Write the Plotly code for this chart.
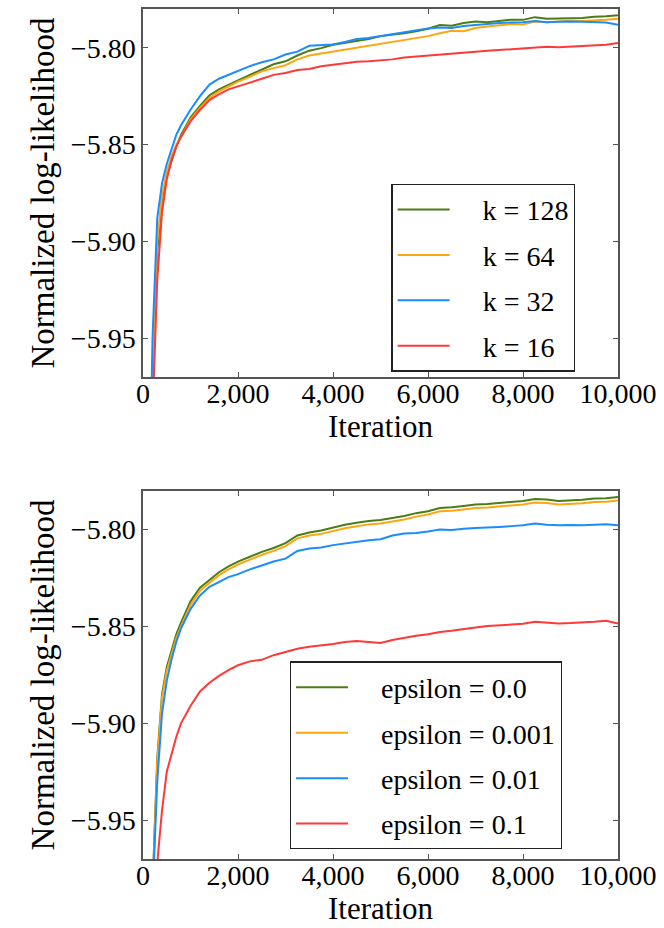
import plotly.graph_objects as go
from plotly.subplots import make_subplots

iterations = [100, 200, 300, 400, 500, 600, 700, 800, 1000, 1200, 1400, 1600, 1800, 2000,
              2250, 2500, 2750, 3000, 3250, 3500, 3750, 4000, 4250, 4500, 4750, 5000,
              5250, 5500, 5750, 6000, 6250, 6500, 6750, 7000, 7250, 7500, 7750, 8000,
              8250, 8500, 8750, 9000, 9250, 9500, 9750, 10000]

# Top panel: k sweep
k128 = [-6.10, -5.975, -5.905, -5.878, -5.866, -5.858, -5.851, -5.845, -5.836, -5.830, -5.8245,
        -5.8215, -5.819, -5.8168, -5.8140, -5.8112, -5.8085, -5.8070, -5.8040, -5.8015, -5.8002,
        -5.7985, -5.7975, -5.7962, -5.7955, -5.7940, -5.7933, -5.7925, -5.7915, -5.7902, -5.7883,
        -5.7886, -5.7872, -5.7865, -5.7868, -5.7860, -5.7855, -5.7856, -5.7842, -5.7850, -5.7849,
        -5.7845, -5.7846, -5.7840, -5.7838, -5.7832]
k64 = [-6.10, -5.970, -5.900, -5.876, -5.864, -5.856, -5.850, -5.846, -5.837, -5.831, -5.8260,
       -5.8225, -5.8200, -5.8175, -5.8150, -5.8122, -5.8105, -5.8090, -5.8060, -5.8040, -5.8030,
       -5.8020, -5.8010, -5.8000, -5.7990, -5.7983, -5.7970, -5.7960, -5.7952, -5.7940, -5.7925,
       -5.7912, -5.7915, -5.7898, -5.7890, -5.7885, -5.7878, -5.7880, -5.7865, -5.7868, -5.7865,
       -5.7860, -5.7862, -5.7860, -5.7856, -5.7850]
k32 = [-6.08, -5.950, -5.888, -5.870, -5.860, -5.852, -5.845, -5.840, -5.832, -5.8250, -5.8190,
       -5.8160, -5.8140, -5.8120, -5.8095, -5.8075, -5.8060, -5.8035, -5.8020, -5.7990, -5.7985,
       -5.7983, -5.7970, -5.7955, -5.7950, -5.7940, -5.7930, -5.7920, -5.7910, -5.7900, -5.7895,
       -5.7898, -5.7888, -5.7882, -5.7875, -5.7872, -5.7870, -5.7868, -5.7862, -5.7868, -5.7866,
       -5.7864, -5.7866, -5.7868, -5.7870, -5.7882]
k16 = [-6.12, -5.990, -5.920, -5.885, -5.868, -5.858, -5.851, -5.846, -5.838, -5.832, -5.8270,
       -5.8240, -5.8215, -5.8198, -5.8180, -5.8160, -5.8140, -5.8130, -5.8115, -5.8110, -5.8095,
       -5.8088, -5.8080, -5.8072, -5.8070, -5.8065, -5.8060, -5.8050, -5.8045, -5.8040, -5.8035,
       -5.8030, -5.8022, -5.8020, -5.8016, -5.8012, -5.8008, -5.8005, -5.7998, -5.7995, -5.7997,
       -5.7993, -5.7990, -5.7988, -5.7984, -5.7975]

# Bottom panel: epsilon sweep
eps0 = [-6.10, -5.985, -5.918, -5.885, -5.871, -5.862, -5.854, -5.848, -5.837, -5.830, -5.8260,
        -5.8220, -5.8190, -5.8165, -5.8140, -5.8115, -5.8095, -5.8070, -5.8030, -5.8015, -5.8005,
        -5.7990, -5.7975, -5.7965, -5.7955, -5.7950, -5.7940, -5.7930, -5.7915, -5.7905, -5.7888,
        -5.7885, -5.7878, -5.7870, -5.7868, -5.7862, -5.7858, -5.7852, -5.7842, -5.7845, -5.7852,
        -5.7850, -5.7846, -5.7840, -5.7838, -5.7832]
eps0001 = [-6.10, -5.988, -5.920, -5.887, -5.873, -5.864, -5.856, -5.850, -5.839, -5.8315, -5.8275,
           -5.8235, -5.8205, -5.8180, -5.8155, -5.8130, -5.8110, -5.8085, -5.8045, -5.8030, -5.8022,
           -5.8007, -5.7993, -5.7983, -5.7973, -5.7968, -5.7958, -5.7948, -5.7933, -5.7922, -5.7905,
           -5.7903, -5.7896, -5.7888, -5.7886, -5.7880, -5.7876, -5.7870, -5.7860, -5.7863, -5.7870,
           -5.7868, -5.7864, -5.7858, -5.7856, -5.7850]
eps001 = [-6.12, -5.990, -5.930, -5.895, -5.878, -5.867, -5.858, -5.851, -5.841, -5.834, -5.8295,
          -5.8270, -5.8245, -5.8230, -5.8205, -5.8185, -5.8165, -5.8150, -5.8110, -5.8098, -5.8092,
          -5.8080, -5.8072, -5.8062, -5.8055, -5.8050, -5.8030, -5.8020, -5.8018, -5.8010, -5.8000,
          -5.8002, -5.7995, -5.7992, -5.7990, -5.7986, -5.7982, -5.7978, -5.7968, -5.7975, -5.7978,
          -5.7976, -5.7978, -5.7974, -5.7972, -5.7978]
eps01 = [-6.15, -6.020, -5.972, -5.945, -5.925, -5.916, -5.907, -5.900, -5.891, -5.8835, -5.8790,
         -5.8755, -5.8725, -5.8700, -5.8680, -5.8672, -5.8648, -5.8632, -5.8615, -5.8605, -5.8598,
         -5.8590, -5.8580, -5.8575, -5.8580, -5.8585, -5.8570, -5.8558, -5.8548, -5.8540, -5.8528,
         -5.8522, -5.8512, -5.8505, -5.8498, -5.8493, -5.8490, -5.8486, -5.8476, -5.8480, -5.8484,
         -5.8482, -5.8480, -5.8475, -5.8470, -5.8485]

top_names = ["k = 128", "k = 64", "k = 32", "k = 16"]
bot_names = ["epsilon = 0.0", "epsilon = 0.001", "epsilon = 0.01", "epsilon = 0.1"]
colors = ["#4a7d12", "#ffa514", "#1a8cff", "#ff3838"]

y_ticks = [-5.95, -5.90, -5.85, -5.80]
x_ticks = [0, 2000, 4000, 6000, 8000, 10000]

FONT = "Liberation Serif"
PAD = "\u00a0" * 4

fig = make_subplots(rows=2, cols=1, vertical_spacing=0.1338)

for i, (name, ys) in enumerate(zip(top_names, [k128, k64, k32, k16])):
    fig.add_trace(go.Scatter(x=iterations, y=ys, mode="lines", name=PAD + name,
                             line=dict(color=colors[i], width=2),
                             legend="legend", legendgroup="t%d" % i), row=1, col=1)
for i, (name, ys) in enumerate(zip(bot_names, [eps0, eps0001, eps001, eps01])):
    fig.add_trace(go.Scatter(x=iterations, y=ys, mode="lines", name=PAD + name,
                             line=dict(color=colors[i], width=2),
                             legend="legend2", legendgroup="b%d" % i), row=2, col=1)

axis_common = dict(showgrid=False, zeroline=False, showline=True, linecolor="#555555",
                   linewidth=1.5, mirror="allticks", ticks="inside", ticklen=5,
                   tickcolor="#555555", tickfont=dict(family=FONT, size=28, color="black"))

for r in (1, 2):
    fig.update_xaxes(range=[0, 10000], tickvals=x_ticks, tickformat=",d",
                     ticklabelstandoff=-9,
                     title=dict(text="Iteration", font=dict(family=FONT, size=31, color="black"),
                                standoff=0),
                     **axis_common, row=r, col=1)
    fig.update_yaxes(range=[-5.97, -5.78], tickvals=y_ticks, tickformat=".2f",
                     title=dict(text="Normalized log-likelihood",
                                font=dict(family=FONT, size=33, color="black"), standoff=6),
                     **axis_common, row=r, col=1)

fig.update_layout(yaxis=dict(domain=[0.5669, 1.0]), yaxis2=dict(domain=[0.0, 0.4331]))

legend_common = dict(bgcolor="white", bordercolor="#222222", borderwidth=1.2,
                     font=dict(family=FONT, size=28, color="black"),
                     itemwidth=52, traceorder="grouped", tracegroupgap=6,
                     xanchor="left", yanchor="top", xref="paper", yref="paper")

fig.update_layout(
    width=664, height=928,
    margin=dict(l=143, r=45, t=7, b=69),
    plot_bgcolor="white", paper_bgcolor="white",
    font=dict(family=FONT),
    legend=dict(x=0.523, y=0.7946, **legend_common),
    legend2=dict(x=0.309, y=0.2324, **legend_common),
)

fig.write_html("out.html")
